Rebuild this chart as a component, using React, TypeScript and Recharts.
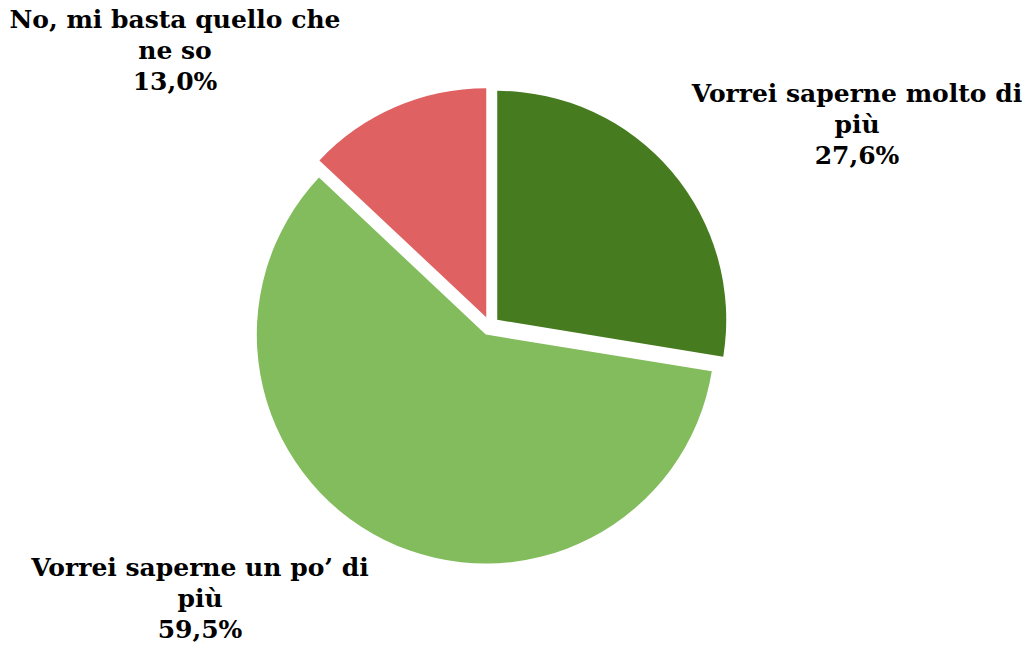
import React from 'react';
import { PieChart, Pie, Cell } from 'recharts';

const categories = ['Vorrei saperne molto di più', 'Vorrei saperne un po’ di più', 'No, mi basta quello che ne so'];
const shares = [27.6, 59.5, 13.0];
const labelLines = [
  ['Vorrei saperne molto di', 'più', '27,6%'],
  ['Vorrei saperne un po’ di', 'più', '59,5%'],
  ['No, mi basta quello che', 'ne so', '13,0%'],
];
const colors = ['#467b1f', '#82bc5c', '#e06161'];

const data = categories.map((name, i) => ({ name, value: shares[i] }));

const CX = 490;
const CY = 326;
const R = 229;
const EXPLODE = 9.5;
const FONT = '"DejaVu Serif", "Liberation Serif", serif';
const FONT_SIZE = 25;
const LINE_H = 31;

// label anchor (center x, first baseline y) relative to pie center
const labelAnchor = [
  { dx: 367, dy: -224 },
  { dx: -290, dy: 250 },
  { dx: -315, dy: -298 },
];

const total = shares.reduce((a, b) => a + b, 0);
const mids: number[] = [];
{
  let acc = 0;
  shares.forEach((v) => {
    mids.push((acc + v / 2) / total);
    acc += v;
  });
}
const offsets = mids.map((f) => {
  const a = f * 2 * Math.PI;
  return { x: Math.sin(a) * EXPLODE, y: -Math.cos(a) * EXPLODE };
});

const makeLabel = (target: number) => (props: any) => {
  if (props.index !== target) return null;
  const a = labelAnchor[target];
  const x = CX + a.dx;
  const y0 = CY + a.dy;
  return (
    <text
      key={`lbl-${target}`}
      x={x}
      y={y0}
      textAnchor="middle"
      fontFamily={FONT}
      fontWeight="bold"
      fontSize={FONT_SIZE}
      fill="#000"
    >
      {labelLines[target].map((t, k) => (
        <tspan key={k} x={x} y={y0 + k * LINE_H}>
          {t}
        </tspan>
      ))}
    </text>
  );
};

export default function App() {
  return (
    <div style={{ position: 'absolute', left: 0, top: 0, width: 1024, height: 645, background: '#fff' }}>
      <PieChart width={1024} height={645} margin={{ top: 0, right: 0, bottom: 0, left: 0 }}>
        {shares.map((_, i) => (
          <Pie
            key={i}
            data={data}
            dataKey="value"
            nameKey="name"
            cx={CX + offsets[i].x}
            cy={CY + offsets[i].y}
            outerRadius={R}
            innerRadius={0}
            startAngle={90}
            endAngle={-270}
            stroke="none"
            isAnimationActive={false}
            labelLine={false}
            label={makeLabel(i)}
          >
            {data.map((_, j) => (
              <Cell key={j} fill={j === i ? colors[j] : 'transparent'} stroke="none" />
            ))}
          </Pie>
        ))}
      </PieChart>
    </div>
  );
}
